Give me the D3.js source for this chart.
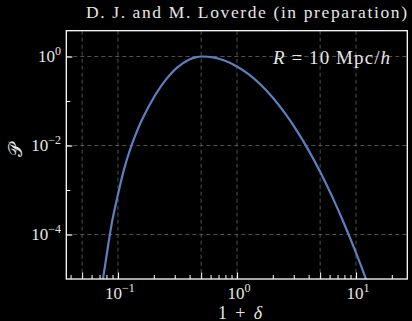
<!DOCTYPE html>
<html>
<head>
<meta charset="utf-8">
<script src="https://cdn.jsdelivr.net/npm/d3@7"></script>
<style>
  html, body { margin: 0; padding: 0; background: #000; }
  svg { display: block; }
  text { font-family: "Liberation Serif", "DejaVu Serif", serif; fill: #e6e6e6; }
</style>
</head>
<body>
<svg id="chart" width="412" height="321"></svg>
<script>
// values (1+delta, probability)
var rho = [0.0724, 0.0794, 0.0891, 0.100, 0.112, 0.126, 0.158, 0.200, 0.251, 0.316, 0.398, 0.447, 0.513,
           0.631, 0.794, 1.0, 1.259, 1.585, 1.995, 2.512, 3.162, 3.981, 5.012, 6.31, 7.94, 10.0, 12.6, 13.5];
var prob = [5.6e-6, 2.8e-5, 1.9e-4, 7.9e-4, 2.8e-3, 7.9e-3, 0.0363, 0.120, 0.295, 0.571, 0.857, 0.955, 1.0,
            0.952, 0.802, 0.598, 0.395, 0.231, 0.120, 0.0547, 0.0222, 7.96e-3, 2.53e-3, 7.11e-4, 1.77e-4, 3.9e-5, 7.6e-6, 4.5e-6];

var xTicks = [0.1, 1, 10];
var xTickExp = ["−1", "0", "1"];
var yTicks = [1, 1e-2, 1e-4];
var yTickExp = ["0", "−2", "−4"];
var yMinor = [1e-1, 1e-3];
var xGrid = [0.05, 0.1, 0.5, 1, 5, 10];

var margin = {left: 66.3, right: 4.7, top: 30.7, bottom: 42};
var W = 412, H = 321;
var svg = d3.select("#chart");

var x = d3.scaleLog().domain([0.0368, 27]).range([margin.left, W - margin.right]);
var y = d3.scaleLog().domain([1e-5, 3.8]).range([H - margin.bottom, margin.top]);

svg.append("clipPath").attr("id", "clip")
  .append("rect")
  .attr("x", margin.left).attr("y", margin.top)
  .attr("width", W - margin.left - margin.right)
  .attr("height", H - margin.top - margin.bottom);

//grid lines
var grid = svg.append("g").attr("stroke", "#5a5a5a").attr("stroke-width", 0.9).attr("stroke-dasharray", "4,3");
grid.selectAll(".vg").data(xGrid).enter().append("line")
  .attr("x1", d => x(d)).attr("x2", d => x(d))
  .attr("y1", margin.top).attr("y2", H - margin.bottom);
grid.selectAll(".hg").data(yTicks).enter().append("line")
  .attr("x1", margin.left).attr("x2", W - margin.right)
  .attr("y1", d => y(d)).attr("y2", d => y(d));

//minor x ticks 2..9 per decade
var xMinor = [];
[0.01, 0.1, 1, 10].forEach(function(dec) {
  for (var k = 2; k <= 9; k++) {
    var v = dec * k;
    if (v > x.domain()[0] && v < x.domain()[1]) xMinor.push(v);
  }
});

var xAxis = d3.axisBottom(x).tickValues(xTicks).tickSizeInner(-6.5).tickSizeOuter(0)
  .tickFormat(() => "");
var gx = svg.append("g").attr("transform", "translate(0," + (H - margin.bottom) + ")").call(xAxis);
gx.select(".domain").remove();
gx.selectAll("line").attr("stroke", "#fff").attr("stroke-width", 1.2);

var gxm = svg.append("g").attr("transform", "translate(0," + (H - margin.bottom) + ")")
  .call(d3.axisBottom(x).tickValues(xMinor).tickSizeOuter(0).tickFormat(() => ""));
gxm.select(".domain").remove();
gxm.selectAll(".tick line")
  .attr("y2", d => (Math.abs(d - 0.05) < 1e-9 || Math.abs(d - 0.5) < 1e-9 || Math.abs(d - 5) < 1e-9) ? -6.5 : -4)
  .attr("stroke", "#fff").attr("stroke-width", 1);

var yAxis = d3.axisLeft(y).tickValues(yTicks).tickSizeInner(-6).tickSizeOuter(0).tickFormat(() => "");
var gy = svg.append("g").attr("transform", "translate(" + margin.left + ",0)").call(yAxis);
gy.select(".domain").remove();
gy.selectAll("line").attr("stroke", "#fff").attr("stroke-width", 1.2);
var gym = svg.append("g").attr("transform", "translate(" + margin.left + ",0)")
  .call(d3.axisLeft(y).tickValues(yMinor).tickSizeInner(-4).tickSizeOuter(0).tickFormat(() => ""));
gym.select(".domain").remove();
gym.selectAll("line").attr("stroke", "#fff").attr("stroke-width", 1);

//tick labels with superscripts
xTicks.forEach(function(v, i) {
  var t = svg.append("text").attr("x", x(v) + 2).attr("y", 299)
    .attr("text-anchor", "middle").style("font-size", "17px");
  t.append("tspan").text("10");
  t.append("tspan").attr("dy", -7).style("font-size", "12px").text(xTickExp[i]);
});
yTicks.forEach(function(v, i) {
  var t = svg.append("text").attr("x", 61).attr("y", y(v) + 5.5)
    .attr("text-anchor", "end").style("font-size", "17px");
  t.append("tspan").text("10");
  t.append("tspan").attr("dy", -7).style("font-size", "12px").text(yTickExp[i]);
});

//curve
var line = d3.line().x(d => x(d[0])).y(d => y(d[1])).curve(d3.curveCatmullRom.alpha(0.5));
svg.append("path")
  .datum(d3.zip(rho, prob))
  .attr("clip-path", "url(#clip)")
  .attr("d", line)
  .attr("fill", "none")
  .attr("stroke", "#5b80c0")
  .attr("stroke-width", 2.2);

//frame
svg.append("rect")
  .attr("x", margin.left).attr("y", margin.top)
  .attr("width", W - margin.left - margin.right)
  .attr("height", H - margin.top - margin.bottom)
  .attr("fill", "none").attr("stroke", "#fff").attr("stroke-width", 1.3);

//texts
svg.append("text").attr("x", 86).attr("y", 18)
  .attr("textLength", 321).attr("lengthAdjust", "spacing")
  .style("font-size", "17.5px")
  .text("D. J. and M. Loverde (in preparation)");

var ann = svg.append("text").attr("x", 273).attr("y", 64)
  .attr("textLength", 117).attr("lengthAdjust", "spacing").style("font-size", "19px");
ann.append("tspan").style("font-style", "italic").text("R");
ann.append("tspan").text(" = 10 Mpc/");
ann.append("tspan").style("font-style", "italic").text("h");

var xl = svg.append("text").attr("x", 218).attr("y", 318.5)
  .attr("textLength", 44).attr("lengthAdjust", "spacing").style("font-size", "18px");
xl.append("tspan").text("1 + ");
xl.append("tspan").style("font-style", "italic").text("δ");

svg.append("text").attr("transform", "translate(22,150) rotate(-90)")
  .attr("text-anchor", "middle").style("font-size", "19px")
  .text("𝒫");
</script>
</body>
</html>
